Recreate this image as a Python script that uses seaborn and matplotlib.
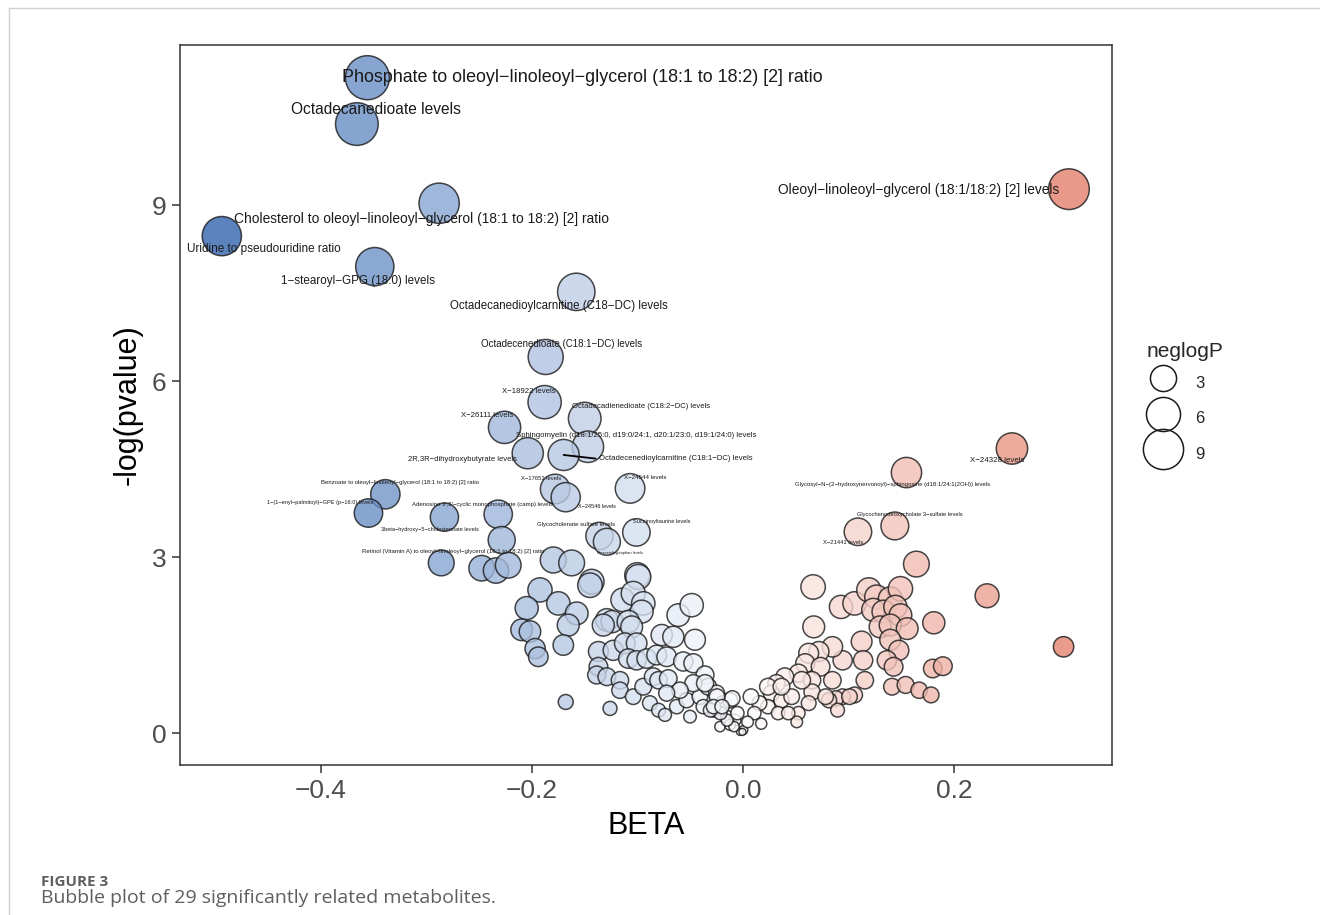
import numpy as np
import pandas as pd
import matplotlib
matplotlib.use('Agg')
import matplotlib.pyplot as plt
import seaborn as sns
from matplotlib.colors import LinearSegmentedColormap, Normalize
from matplotlib.lines import Line2D

sns.set_style('white')
plt.rcParams['font.family'] = ['Liberation Sans', 'DejaVu Sans']

#%% Dados: 29 metabolitos significativos (com rótulo)
nomes = [
    'Phosphate to oleoyl−linoleoyl−glycerol (18:1 to 18:2) [2] ratio',
    'Octadecanedioate levels',
    'Cholesterol to oleoyl−linoleoyl−glycerol (18:1 to 18:2) [2] ratio',
    'Uridine to pseudouridine ratio',
    '1−stearoyl−GPG (18:0) levels',
    'Octadecanedioylcarnitine (C18−DC) levels',
    'Octadecenedioate (C18:1−DC) levels',
    'X−18922 levels',
    'Octadecadienedioate (C18:2−DC) levels',
    'X−26111 levels',
    'Sphingomyelin (d18:1/25:0, d19:0/24:1, d20:1/23:0, d19:1/24:0) levels',
    '2R,3R−dihydroxybutyrate levels',
    'Octadecenedioylcarnitine (C18:1−DC) levels',
    'X−17653 levels',
    'X−24544 levels',
    'X−24546 levels',
    'Benzoate to oleoyl−linoleoyl−glycerol (18:1 to 18:2) [2] ratio',
    '1−(1−enyl−palmitoyl)−GPE (p−16:0) levels',
    "Adenosine 3',5'−cyclic monophosphate (camp) levels",
    '3beta−hydroxy−5−cholestenoate levels',
    'Glycocholenate sulfate levels',
    'Succinoyltaurine levels',
    'N−acetyltryptophan levels',
    'Retinol (Vitamin A) to oleoyl−linoleoyl−glycerol (18:1 to 18:2) [2] ratio',
    'Glycosyl−N−(2−hydroxynervonoyl)−sphingosine (d18:1/24:1(2OH)) levels',
    'X−24328 levels',
    'Glycochenodeoxycholate 3−sulfate levels',
    'X−21441 levels',
    'Oleoyl−linoleoyl−glycerol (18:1/18:2) [2] levels',
]
beta_sig = [-0.356, -0.366, -0.288, -0.494, -0.349, -0.158, -0.187, -0.188, -0.150, -0.226,
            -0.147, -0.204, -0.170, -0.178, -0.107, -0.168, -0.339, -0.355, -0.232, -0.283,
            -0.136, -0.101, -0.129, -0.286, 0.155, 0.255, 0.144, 0.109, 0.309]
logp_sig = [11.17, 10.38, 9.03, 8.47, 7.95, 7.52, 6.41, 5.64, 5.36, 5.21,
            4.88, 4.77, 4.74, 4.16, 4.17, 4.02, 4.07, 3.75, 3.73, 3.68,
            3.36, 3.42, 3.26, 2.90, 4.44, 4.85, 3.53, 3.43, 9.27]

#%% Dados: demais metabolitos (sem rótulo)
beta_outros = [
    -0.2477, -0.2341, -0.2225, -0.2287, -0.1798, -0.1624, -0.1434, -0.1450, -0.1002, -0.0992,
    -0.1924, -0.1750, -0.1576, -0.2050, -0.1656, -0.2098, -0.2019, -0.1970, -0.1940, -0.1703,
    -0.1680, -0.1260, -0.1140, -0.1040, -0.0945, -0.0960, -0.1290, -0.1240, -0.1324, -0.1087,
    -0.1055, -0.0613, -0.0486, -0.0770, -0.0660, -0.0455, -0.1370, -0.1230, -0.1120, -0.1008,
    -0.1370, -0.1387, -0.1290, -0.1166, -0.1087, -0.1008, -0.0913, -0.0818, -0.0723, -0.0566,
    -0.0470, -0.0360, -0.1166, -0.1040, -0.0945, -0.0850, -0.0800, -0.0708, -0.0882, -0.0800,
    -0.0739, -0.0628, -0.0534, -0.0502, -0.0408, -0.0329, -0.0250, -0.0187, -0.0123, -0.0281,
    -0.0155, -0.0076, 0.0003, -0.0470, -0.0597, -0.0723, -0.0376, -0.0218, -0.0123, -0.0028,
    0.1644, 0.2314, 0.3039, 0.0665, 0.0671, 0.0929, 0.1058, 0.1193, 0.1267, 0.1396,
    0.1493, 0.1235, 0.1332, 0.1445, 0.1493, 0.1300, 0.1396, 0.1557, 0.1809, 0.1125,
    0.1396, 0.1477, 0.1364, 0.1428, 0.1139, 0.0945, 0.1155, 0.1058, 0.0945, 0.0880,
    0.0816, 0.0897, 0.1413, 0.1542, 0.1670, 0.1783, 0.1799, 0.1895, 0.0848, 0.0720,
    0.0623, 0.0590, 0.0526, 0.0397, 0.0318, 0.0269, 0.0736, 0.0655, 0.0655, 0.0623,
    0.0526, 0.0510, 0.0365, 0.0237, 0.0156, 0.0108, 0.0333, 0.0429, 0.0044, 0.0173,
    -0.0005, -0.0085, -0.0150, -0.0101, -0.0246, -0.0214, -0.0310, -0.0279, -0.0359, -0.0198,
    -0.0053, 0.0076, 0.0237, 0.0462, 0.0365, 0.0558, 0.0784, 0.0848, 0.1010,
]
logp_outros = [
    2.81, 2.77, 2.86, 3.29, 2.95, 2.90, 2.58, 2.52, 2.69, 2.66,
    2.44, 2.21, 2.04, 2.13, 1.84, 1.76, 1.73, 1.44, 1.30, 1.50,
    0.53, 0.42, 2.27, 2.38, 2.21, 2.07, 1.93, 1.90, 1.84, 1.90,
    1.81, 2.01, 2.18, 1.67, 1.64, 1.59, 1.39, 1.41, 1.53, 1.53,
    1.13, 0.99, 0.96, 0.90, 1.27, 1.24, 1.27, 1.33, 1.30, 1.22,
    1.19, 0.99, 0.73, 0.62, 0.79, 0.96, 0.90, 0.93, 0.51, 0.39,
    0.31, 0.45, 0.56, 0.28, 0.62, 0.79, 0.68, 0.51, 0.56, 0.39,
    0.28, 0.22, 0.05, 0.85, 0.73, 0.68, 0.45, 0.11, 0.14, 0.02,
    2.88, 2.34, 1.47, 2.49, 1.81, 2.15, 2.21, 2.44, 2.32, 2.29,
    2.46, 2.10, 2.07, 2.15, 2.01, 1.81, 1.84, 1.78, 1.88, 1.56,
    1.59, 1.41, 1.24, 1.13, 1.24, 1.24, 0.90, 0.65, 0.62, 0.59,
    0.56, 0.39, 0.79, 0.82, 0.73, 0.65, 1.10, 1.14, 1.47, 1.39,
    1.36, 1.19, 1.02, 0.96, 0.85, 0.68, 1.13, 0.90, 0.70, 0.51,
    0.34, 0.19, 0.56, 0.45, 0.51, 0.34, 0.34, 0.34, 0.19, 0.16,
    0.02, 0.11, 0.22, 0.59, 0.62, 0.34, 0.39, 0.45, 0.85, 0.45,
    0.34, 0.62, 0.79, 0.62, 0.79, 0.90, 0.62, 0.90, 0.62,
]

# Posição e tamanho dos rótulos (pixels: direita, baixo; fonte em pt)
deslocamentos = [(215, 0), (19, -15), (-18, 16), (42, 13), (-17, 14), (-17, 14), (16, -13),
                 (-16, -11), (56, -12), (-17, -12), (48, -11), (-65, 6), (112, 4), (-14, -10),
                 (15, -11), (31, 9), (15, -12), (-48, -11), (-16, -10), (-14, 12), (-23, -11),
                 (25, -11), (13, 11), (12, -11), (-14, 12), (-15, 12), (15, -11), (-15, 11),
                 (-150, 1)]
tam_rotulo = [12.9, 11.2, 9.9, 8.5, 8.4, 8.3, 7.0, 5.6, 5.5, 5.6,
              5.6, 5.5, 5.6, 4.2, 4.4, 4.0, 4.3, 4.1, 4.3, 4.1,
              4.3, 4.1, 2.9, 4.3, 4.3, 5.7, 4.15, 4.2, 9.9]

df = pd.DataFrame({'BETA': beta_sig + beta_outros, 'neglogP': logp_sig + logp_outros})

# Escala de tamanho tipo ggplot (diâmetro proporcional à raiz)
d0, d1 = 7 * 0.72, 44 * 0.72
pmin, pmax = df['neglogP'].min(), df['neglogP'].max()


def area(v):
    t = np.clip((np.asarray(v) - pmin) / (pmax - pmin), 0, 1)
    return (d0 + (d1 - d0) * np.sqrt(t)) ** 2


df['area'] = area(df['neglogP'])
amin, amax = area(pmin), area(pmax)

#%% Gráfico
fig = plt.figure(figsize=(13.2, 9.15), dpi=100)
ax = fig.add_axes([0.1364, 0.1639, 0.7060, 0.7869])

cores = LinearSegmentedColormap.from_list('azul_branco_vermelho', ['#3265b0', '#ffffff', '#d33616'])
lim = df['BETA'].abs().max()

sns.scatterplot(data=df, x='BETA', y='neglogP', hue='BETA', palette=cores,
                hue_norm=Normalize(-lim, lim), size='area', sizes=(amin, amax),
                size_norm=(amin, amax), edgecolor='#1a1a1a', linewidth=1.1, alpha=0.8,
                legend=False, ax=ax)

# Rótulos dos metabolitos significativos
for nome, b, p, (dx, dy), fs in zip(nomes, beta_sig, logp_sig, deslocamentos, tam_rotulo):
    extra = {}
    if nome.startswith('Octadecenedioylcarnitine'):
        extra['arrowprops'] = dict(arrowstyle='-', color='black', lw=1.3,
                                   shrinkA=0, shrinkB=0, relpos=(0, 0.5))
    ax.annotate(nome, (b, p), xytext=(dx * 0.72, -dy * 0.72), textcoords='offset points',
                ha='center', va='center', fontsize=fs, color='#1a1a1a', **extra)

ax.set_xlim(-0.5336, 0.3498)
ax.set_ylim(-0.545, 11.727)
ax.set_xticks([-0.4, -0.2, 0.0, 0.2])
ax.set_yticks([0, 3, 6, 9])
ax.tick_params(direction='out', length=6, width=1.1, color='#333333',
               labelsize=19, labelcolor='#4d4d4d', pad=4, bottom=True, left=True)
for lado in ax.spines.values():
    lado.set_color('#333333')
    lado.set_linewidth(1.1)
ax.set_xlabel('BETA', fontsize=22, color='black', labelpad=6)
ax.set_ylabel('-log(pvalue)', fontsize=22, color='black', labelpad=6)

# Legenda de tamanho
alcas = [Line2D([], [], marker='o', linestyle='', markersize=np.sqrt(area(v)),
                markerfacecolor='none', markeredgecolor='#1a1a1a', markeredgewidth=1.1)
         for v in [3, 6, 9]]
leg = ax.legend(alcas, ['3', '6', '9'], title='neglogP', loc='center left',
                bbox_to_anchor=(1.03, 0.5), frameon=False, fontsize=12, title_fontsize=15,
                handleheight=2.2, labelspacing=0.45, handletextpad=0.9, borderaxespad=0)
leg._legend_box.align = 'left'

# Legenda da figura
fig.text(41 / 1320, 1 - 886 / 915, 'FIGURE 3', fontsize=11, fontweight='bold',
         color='#5f5f5f', family='Open Sans', va='baseline')
fig.text(41 / 1320, 1 - 903 / 915, 'Bubble plot of 29 significantly related metabolites.',
         fontsize=14, color='#5f5f5f', family='Open Sans', va='baseline')
fig.add_artist(Line2D([9 / 1320, 9 / 1320], [0, 1 - 8 / 915], color='#cfcfcf', lw=1))
fig.add_artist(Line2D([9 / 1320, 1], [1 - 8 / 915, 1 - 8 / 915], color='#cfcfcf', lw=1))

plt.savefig('out.png', dpi=100)
